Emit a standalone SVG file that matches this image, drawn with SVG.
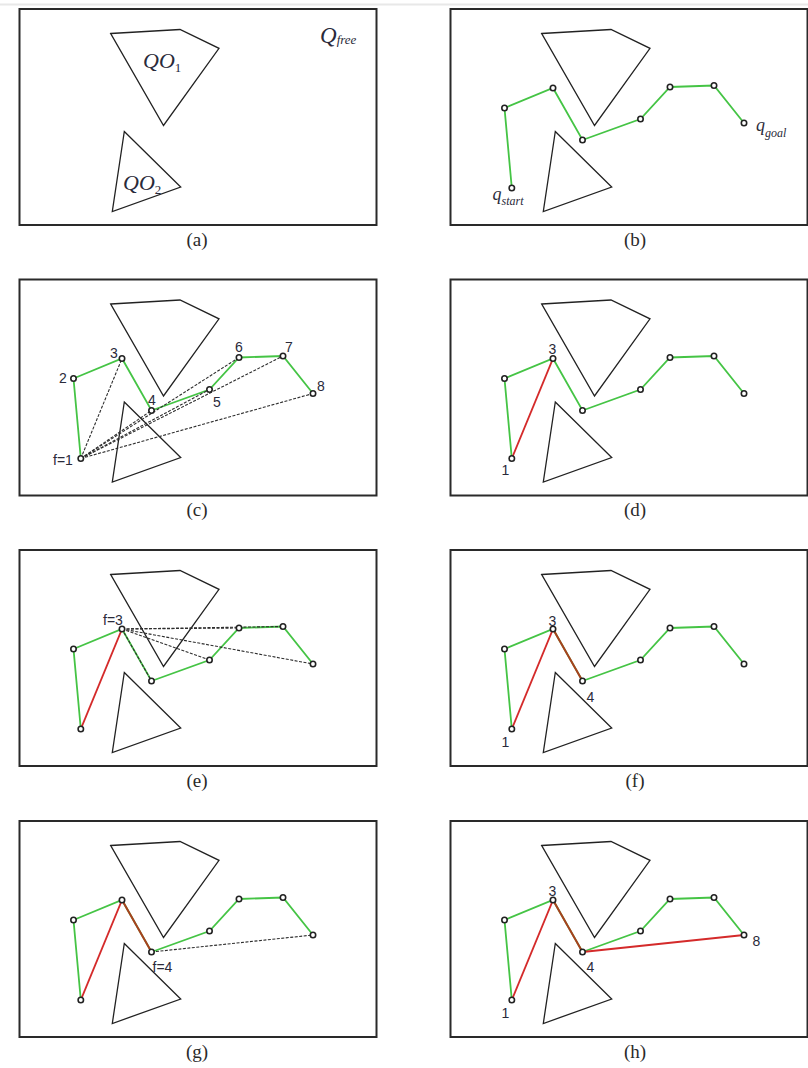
<svg xmlns="http://www.w3.org/2000/svg" xmlns:xlink="http://www.w3.org/1999/xlink" width="808" height="1068" viewBox="0 0 808 1068">
<style>
.frame{fill:none;stroke:#2a2a2a;stroke-width:2}
.obs{fill:none;stroke:#222;stroke-width:1.3;stroke-linejoin:miter}
.g{fill:none;stroke:#45c445;stroke-width:1.8}
.r{fill:none;stroke:#d42a2a;stroke-width:1.9}
.rb{fill:none;stroke:#a8401e;stroke-width:2}
.d{fill:none;stroke:#2e2e2e;stroke-width:1.1;stroke-dasharray:3 1.5}
.n{fill:#fff;stroke:#222;stroke-width:1.6}
.lb{font-family:"Liberation Sans",Arial,sans-serif;font-size:14px;fill:#2a2a3a}
.cap{font-family:"Liberation Serif","Times New Roman",serif;font-size:19px;fill:#2a2a2a;text-anchor:middle}
.it{font-family:"Liberation Serif","Times New Roman",serif;font-style:italic;fill:#2a2a3a}
</style>
<defs>
<g id="base">
<rect class="frame" x="19.5" y="9" width="357" height="216"/>
<polygon class="obs" points="110.7,33.5 180,29.5 219,48.3 163.5,125.5"/>
<polygon class="obs" points="124.3,131.5 180.7,187 112.3,211.5"/>
</g>
<g id="nodes">
<circle class="n" cx="80.8" cy="188" r="2.7"/>
<circle class="n" cx="73.5" cy="108" r="2.7"/>
<circle class="n" cx="122" cy="88" r="2.7"/>
<circle class="n" cx="151.5" cy="140" r="2.7"/>
<circle class="n" cx="209.5" cy="119" r="2.7"/>
<circle class="n" cx="239" cy="87" r="2.7"/>
<circle class="n" cx="283" cy="85.5" r="2.7"/>
<circle class="n" cx="313" cy="123" r="2.7"/>
</g>
<polyline id="path" class="g" points="80.8,188 73.5,108 122,88 151.5,140 209.5,119 239,87 283,85.5 313,123"/>
</defs>
<line x1="0" y1="4.5" x2="808" y2="4.5" stroke="#e8e8e8" stroke-width="2"/>

<g id="panel-a">
<use xlink:href="#base"/>
<text class="it" x="143" y="68" font-size="22">QO<tspan font-size="13" dy="3.5" font-style="normal">1</tspan></text>
<text class="it" x="123" y="190" font-size="22">QO<tspan font-size="13" dy="3.5" font-style="normal">2</tspan></text>
<text class="it" x="320" y="43" font-size="23">Q<tspan font-size="13" dy="1">free</tspan></text>
<text class="cap" x="197" y="245.5">(a)</text>
</g>

<g id="panel-b" transform="translate(431,0)">
<use xlink:href="#base"/>
<g id="b-connectors"><use xlink:href="#path"/></g>
<use xlink:href="#nodes"/>
<text class="it" x="61.5" y="200" font-size="18">q<tspan font-size="12" dy="5">start</tspan></text>
<text class="it" x="325" y="130.5" font-size="18">q<tspan font-size="12" dy="6">goal</tspan></text>
<text class="cap" x="204" y="245.5">(b)</text>
</g>

<g id="panel-c" transform="translate(0,270.5)">
<use xlink:href="#base"/>
<g id="c-connectors">
<use xlink:href="#path"/>
<line class="d" x1="80.8" y1="188" x2="122" y2="88"/>
<line class="d" x1="80.8" y1="188" x2="151.5" y2="140"/>
<line class="d" x1="80.8" y1="188" x2="209.5" y2="119"/>
<line class="d" x1="80.8" y1="188" x2="239" y2="87"/>
<line class="d" x1="80.8" y1="188" x2="283" y2="85.5"/>
<line class="d" x1="80.8" y1="188" x2="313" y2="123"/>
</g>
<use xlink:href="#nodes"/>
<text class="lb" x="53" y="194">f=1</text>
<text class="lb" x="59" y="112.5">2</text>
<text class="lb" x="110" y="87.5">3</text>
<text class="lb" x="148" y="134.5">4</text>
<text class="lb" x="213" y="136">5</text>
<text class="lb" x="235" y="81.5">6</text>
<text class="lb" x="285" y="81.5">7</text>
<text class="lb" x="317" y="120.5">8</text>
<text class="cap" x="197" y="245.5">(c)</text>
</g>

<g id="panel-d" transform="translate(431,270.5)">
<use xlink:href="#base"/>
<g id="d-connectors">
<use xlink:href="#path"/>
<line class="r" x1="80.8" y1="188" x2="122" y2="88"/>
</g>
<use xlink:href="#nodes"/>
<text class="lb" x="117.6" y="83.5">3</text>
<text class="lb" x="70.5" y="204.5">1</text>
<text class="cap" x="204" y="245.5">(d)</text>
</g>

<g id="panel-e" transform="translate(0,541)">
<use xlink:href="#base"/>
<g id="e-connectors">
<use xlink:href="#path"/>
<line class="r" x1="80.8" y1="188" x2="122" y2="88"/>
<line class="d" x1="122" y1="88" x2="151.5" y2="140"/>
<line class="d" x1="122" y1="88" x2="209.5" y2="119"/>
<line class="d" x1="122" y1="88" x2="239" y2="87"/>
<line class="d" x1="122" y1="88" x2="283" y2="85.5"/>
<line class="d" x1="122" y1="88" x2="313" y2="123"/>
</g>
<use xlink:href="#nodes"/>
<text class="lb" x="103" y="84">f=3</text>
<text class="cap" x="197" y="245.5">(e)</text>
</g>

<g id="panel-f" transform="translate(431,541)">
<use xlink:href="#base"/>
<g id="f-connectors">
<use xlink:href="#path"/>
<line class="r" x1="80.8" y1="188" x2="122" y2="88"/>
<line class="rb" x1="122" y1="88" x2="151.5" y2="140"/>
</g>
<use xlink:href="#nodes"/>
<text class="lb" x="117.6" y="84.5">3</text>
<text class="lb" x="155.5" y="160.5">4</text>
<text class="lb" x="70.5" y="206">1</text>
<text class="cap" x="204" y="245.5">(f)</text>
</g>

<g id="panel-g" transform="translate(0,812)">
<use xlink:href="#base"/>
<g id="g-connectors">
<use xlink:href="#path"/>
<line class="r" x1="80.8" y1="188" x2="122" y2="88"/>
<line class="rb" x1="122" y1="88" x2="151.5" y2="140"/>
<line class="d" x1="151.5" y1="140" x2="313" y2="123"/>
</g>
<use xlink:href="#nodes"/>
<text class="lb" x="152.5" y="159.5">f=4</text>
<text class="cap" x="197" y="245.5">(g)</text>
</g>

<g id="panel-h" transform="translate(431,812)">
<use xlink:href="#base"/>
<g id="h-connectors">
<use xlink:href="#path"/>
<line class="r" x1="80.8" y1="188" x2="122" y2="88"/>
<line class="rb" x1="122" y1="88" x2="151.5" y2="140"/>
<line class="r" x1="151.5" y1="140" x2="313" y2="123"/>
</g>
<use xlink:href="#nodes"/>
<text class="lb" x="117.6" y="84">3</text>
<text class="lb" x="155.5" y="160">4</text>
<text class="lb" x="70.5" y="205.5">1</text>
<text class="lb" x="321.5" y="133.5">8</text>
<text class="cap" x="204" y="245.5">(h)</text>
</g>
</svg>
